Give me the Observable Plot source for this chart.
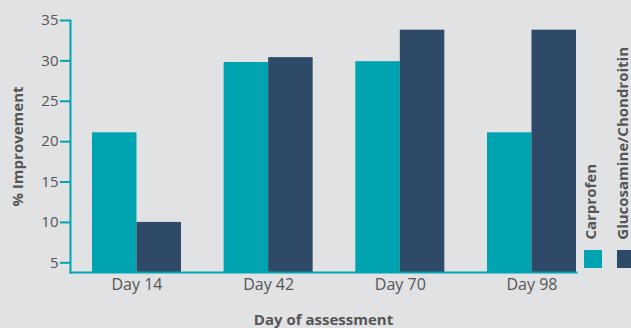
<!DOCTYPE html>
<html>
<head>
<meta charset="utf-8">
<script src="https://cdn.jsdelivr.net/npm/d3@7"></script>
<script src="https://cdn.jsdelivr.net/npm/@observablehq/plot@0.6"></script>
<style>
  html, body { margin: 0; padding: 0; background: #e1e2e4; }
  #chart { position: relative; width: 631px; height: 328px; font-family: "Open Sans", sans-serif; overflow: hidden; }
  #chart svg { display: block; }
  .sw { position: absolute; width: 18px; height: 18px; }
  .lab { position: absolute; writing-mode: vertical-rl; transform: rotate(180deg); font-weight: 700;
         font-size: 15px; line-height: 18px; width: 18px; color: #555; white-space: nowrap; }
</style>
</head>
<body>
<div id="chart"></div>
<script>
// % improvement by day of assessment, for the two treatments
const days = ["Day 14", "Day 42", "Day 70", "Day 98"];
const seriesNames = ["Carprofen", "Glucosamine/Chondroitin"];
const carprofen = [21.1, 29.8, 29.9, 21.1];
const glucosamine = [10.0, 30.4, 33.8, 33.8];
const yTicks = [5, 10, 15, 20, 25, 30, 35];
const yDomain = [3.8, 35];
const colors = ["#00a3b0", "#2e4a68"];

const rows = days.map((day, i) => ({day, carprofen: carprofen[i], glucosamine: glucosamine[i]}));

const teal = colors[0];
const textColor = "#555";
const half = 44.5; // each series takes half of a day's band

const chart = Plot.plot({
  width: 631,
  height: 328,
  marginLeft: 70,
  marginRight: 55,
  marginTop: 20,
  marginBottom: 56,
  style: {background: "transparent", fontFamily: "'Open Sans', sans-serif", fontSize: "15px", color: textColor},
  x: {domain: days, paddingInner: 0.324, paddingOuter: 0.0834, align: 1, round: false},
  y: {domain: yDomain},
  marks: [
    Plot.barY(rows, {x: "day", y1: yDomain[0], y2: "carprofen", fill: colors[0], insetRight: half}),
    Plot.barY(rows, {x: "day", y1: yDomain[0], y2: "glucosamine", fill: colors[1], insetLeft: half}),
    Plot.axisY(yTicks, {
      tickSize: 10, tickPadding: 2, stroke: teal, strokeWidth: 2, fill: textColor,
      label: "% Improvement", labelArrow: "none", labelAnchor: "center", labelOffset: 58
    }),
    Plot.axisX({
      tickSize: 0, tickPadding: 6, fill: textColor, fontSize: 16,
      label: null
    }),
    Plot.axisX({
      ticks: [], tickSize: 0,
      label: "Day of assessment", labelAnchor: "center", labelOffset: 52, fill: textColor
    }),
    Plot.frame({anchor: "left", stroke: teal, strokeWidth: 2}),
    Plot.frame({anchor: "bottom", stroke: teal, strokeWidth: 2})
  ]
});

// bold axis titles only
d3.select(chart).selectAll("[aria-label='y-axis label'], [aria-label='x-axis label']")
  .attr("font-weight", 700)
  .attr("font-size", 15);

const root = document.getElementById("chart");
root.appendChild(chart);

// vertical legend on the right
const legendPos = [{x: 581, sw: 584}, {x: 613, sw: 617}];
seriesNames.forEach((name, i) => {
  const lab = document.createElement("div");
  lab.className = "lab";
  lab.textContent = name;
  lab.style.left = legendPos[i].x + "px";
  lab.style.bottom = "88px";
  root.appendChild(lab);
  const sw = document.createElement("div");
  sw.className = "sw";
  sw.style.background = colors[i];
  sw.style.left = legendPos[i].sw + "px";
  sw.style.top = "250px";
  root.appendChild(sw);
});
</script>
</body>
</html>
